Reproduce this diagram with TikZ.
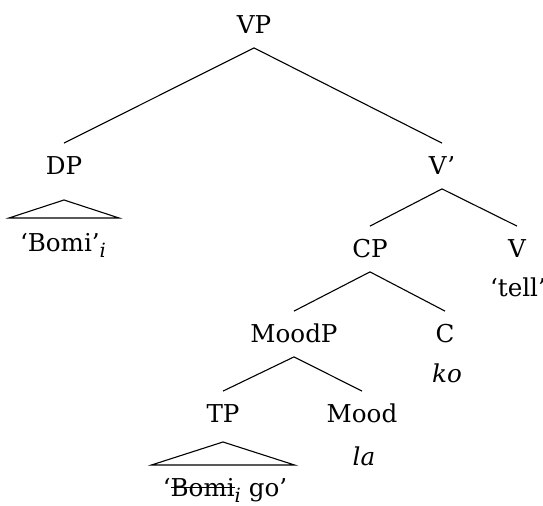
\documentclass[tikz,border=0pt]{standalone}
\usepackage{fontspec}
\setmainfont{DejaVu Serif}
\usetikzlibrary{calc}

% horizontal line drawn through a word
\newcommand\struckword[1]{%
  \setbox0\hbox{#1}%
  \rlap{\rule[0.36em]{\wd0}{0.55pt}}\box0}
% lowered italic index
\newcommand\idx[1]{\raisebox{-0.22em}{\fontsize{9.8}{11}\selectfont\itshape #1}}

\tikzset{
  cat/.style={anchor=base, inner xsep=0pt, inner ysep=6.75pt,
              text height=9pt, text depth=0pt,
              font=\fontsize{12.3}{14}\selectfont},
  leaf/.style={anchor=base, inner sep=0pt,
               font=\fontsize{12.3}{14}\selectfont},
  branch/.style={line width=0.55pt},
}

\begin{document}
\begin{tikzpicture}[x=0.5pt, y=-0.5pt]
  \useasboundingbox (0,0) rectangle (543,506);

  % phrase labels
  \node[cat] (VP)    at (254,34)  {VP};
  \node[cat] (DP)    at (64,175)  {DP};
  \node[cat] (Vbar)  at (442,175) {V’};
  \node[cat] (CP)    at (370,258) {CP};
  \node[cat] (V)     at (517,258) {V};
  \node[cat] (MoodP) at (294,343) {MoodP};
  \node[cat] (C)     at (445,343) {C};
  \node[cat] (TP)    at (223,423) {TP};
  \node[cat] (Mood)  at (362,423) {Mood};

  % terminals
  \node[leaf] (bomi)  at (63,252)  {‘Bomi’\idx{i}};
  \node[leaf] (tell)  at (518,297) {‘tell’};
  \node[leaf] (ko)    at (447,383) {\itshape ko};
  \node[leaf] (la)    at (364,466) {\itshape la};
  \node[leaf] (bomigo) at (225,497) {‘\struckword{Bomi}\idx{i} go’};

  % branches
  \draw[branch] (VP.south) -- (DP.north);
  \draw[branch] (VP.south) -- (Vbar.north);
  \draw[branch] (Vbar.south) -- (CP.north);
  \draw[branch] (Vbar.south) -- (V.north);
  \draw[branch] (CP.south) -- (MoodP.north);
  \draw[branch] (CP.south) -- (C.north);
  \draw[branch] (MoodP.south) -- (TP.north);
  \draw[branch] (MoodP.south) -- (Mood.north);

  % roofs over unanalysed constituents
  \draw[branch, line join=miter] ($(DP.base)+(0,25)$) -- ++(-55,18) -- ++(110,0) -- cycle;
  \draw[branch, line join=miter] ($(TP.base)+(0,19)$) -- ++(-71.5,23) -- ++(143,0) -- cycle;
\end{tikzpicture}
\end{document}
